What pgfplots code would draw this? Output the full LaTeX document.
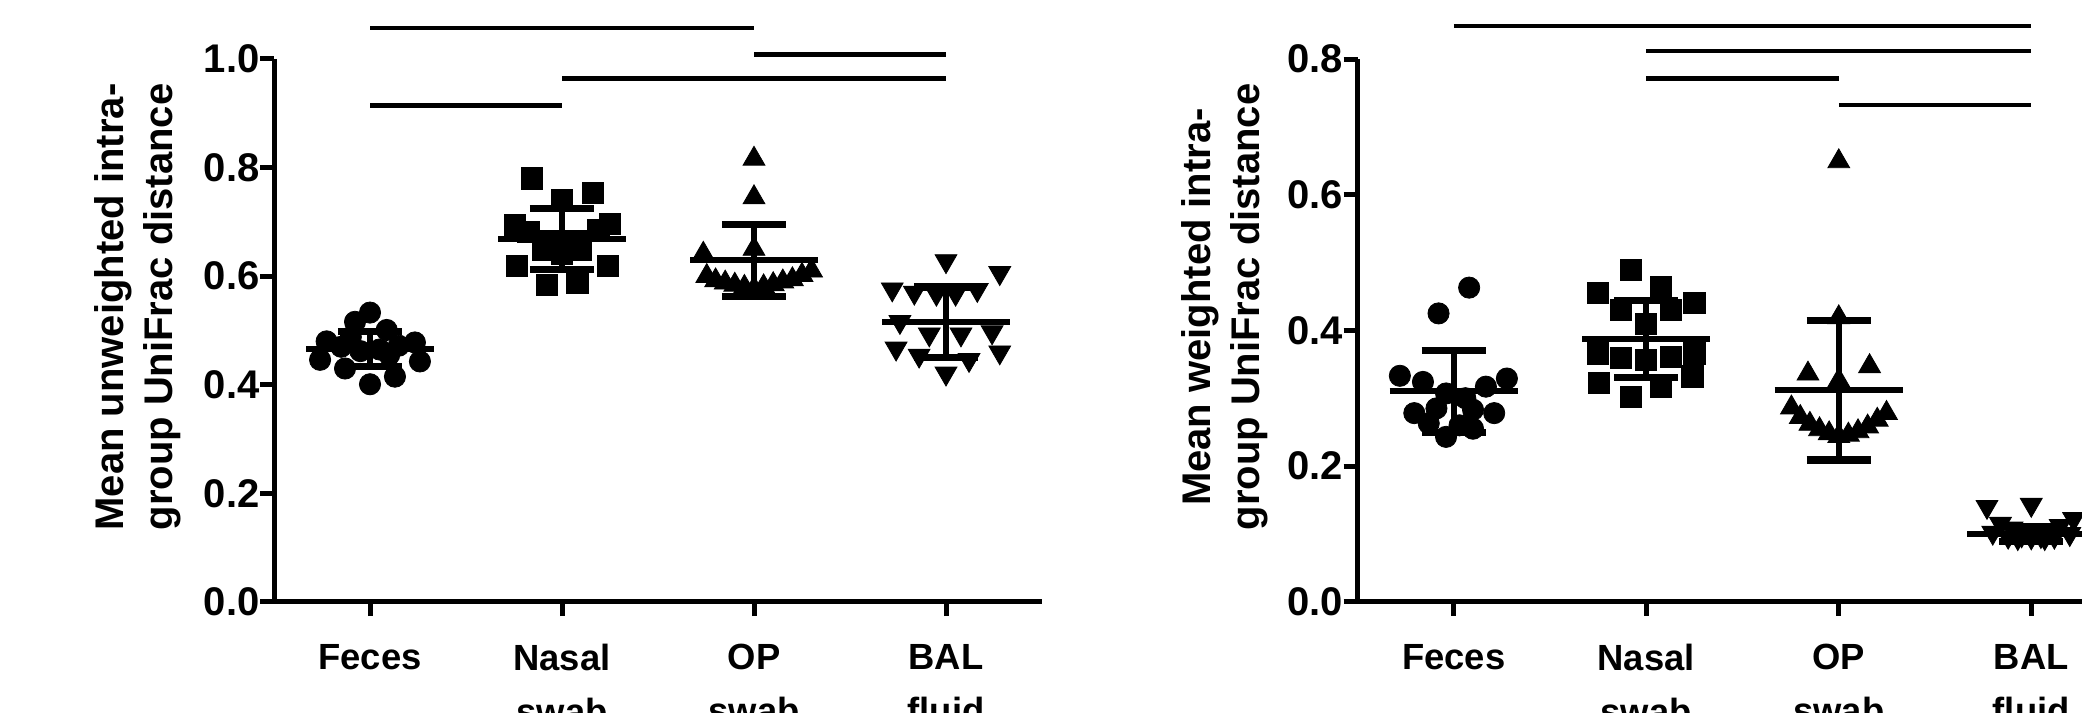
\documentclass[border=0pt]{standalone}
\usepackage{fontspec}
\setmainfont{Liberation Sans}
\usepackage{pgfplots}
\pgfplotsset{compat=1.18}
\pgfplotsset{
  myax/.style={
    scale only axis, anchor=south west,
    xmin=-0.5, xmax=3.5, ymin=0,
    axis x line=bottom, axis y line=left,
    axis line style={line width=2.5pt, -},
    tick align=outside, major tick length=7pt,
    tick style={line width=2.5pt, black},
    minor tick num=0,
    xtick={0,1,2,3},
    xticklabels={Feces, Nasal\\swab, OP\\swab, BAL\\fluid},
    xticklabel style={align=center, font=\fontsize{18.2}{27}\selectfont\bfseries, inner sep=0pt, anchor=north, yshift=-14pt},
    yticklabel style={font=\fontsize{20}{24}\selectfont\bfseries, inner sep=0pt,
      /pgf/number format/fixed, /pgf/number format/fixed zerofill, /pgf/number format/precision=1},
    /pgf/number format/assume math mode=true,
    ylabel style={anchor=south, align=center, inner sep=0pt, font=\fontsize{20}{24.5}\selectfont\bfseries},
    clip=false,
  },
  circ/.style={only marks, black, mark=*, mark size=5.3pt},
  sq/.style={only marks, black, mark=square*, mark size=5.3pt},
  tri/.style={only marks, black, mark=triangle*, mark size=6.3pt},
  itri/.style={only marks, black, mark=triangle*, mark size=6.3pt, mark options={rotate=180}},
  meanl/.style={black, line width=3pt, mark=none},
  sdv/.style={black, line width=3pt, mark=none},
  cap/.style={black, line width=3.6pt, mark=none},
  sig/.style={black, line width=2.25pt, mark=none},
}
\begin{document}
\begin{tikzpicture}
\useasboundingbox (0,0) rectangle (1041pt,356pt);
\clip (0,0) rectangle (1041pt,356pt);
% ---------------- left panel ----------------
\begin{axis}[myax, at={(137pt,55pt)}, width=384pt, height=271.5pt,
  ymax=1.0, ytick={0,0.2,0.4,0.6,0.8,1.0},
  ylabel={Mean unweighted intra-\\group UniFrac distance},
  ylabel style={at={(axis description cs:-0.1206,0.5433)}}]
\addplot[circ] coordinates {(0,0.533) (-0.078,0.516) (0.087,0.501) (-0.226,0.480) (0.234,0.478)
  (-0.26,0.446) (0.26,0.443) (-0.13,0.430) (0.13,0.415) (0,0.401)
  (-0.15,0.470) (-0.05,0.462) (0.05,0.465) (0.15,0.472) (-0.1,0.488) (0.1,0.455)};
\addplot[sq] coordinates {(0.842,0.780) (1.163,0.753) (1.0,0.740) (0.755,0.694) (1.25,0.697)
  (0.825,0.682) (1.19,0.685) (0.9,0.648) (1.0,0.642) (1.1,0.648) (0.93,0.665) (1.07,0.665)
  (0.764,0.619) (1.24,0.619) (0.92,0.584) (1.08,0.587)};
\addplot[tri] coordinates {(2,0.816) (2,0.745) (2,0.650) (1.736,0.641) (2.30,0.610) (1.754,0.600)
  (2.25,0.602) (1.80,0.592) (2.20,0.594) (1.85,0.588) (2.15,0.590) (1.90,0.584) (2.10,0.585)
  (1.95,0.580) (2.05,0.581) (2.0,0.577)};
\addplot[itri] coordinates {(3,0.628) (3.28,0.606) (2.72,0.576) (2.835,0.570) (2.95,0.568) (3.05,0.568)
  (3.163,0.575) (2.76,0.516) (2.913,0.493) (3.078,0.493) (3.24,0.497) (2.74,0.467) (2.86,0.454)
  (3.12,0.446) (3.28,0.460) (3,0.421)};
% means
\addplot[meanl] coordinates {(-0.333,0.466) (0.333,0.466)};
\addplot[meanl] coordinates {(0.667,0.668) (1.333,0.668)};
\addplot[meanl] coordinates {(1.667,0.629) (2.333,0.629)};
\addplot[meanl] coordinates {(2.667,0.515) (3.333,0.515)};
% SD bars
\addplot[sdv] coordinates {(0,0.434) (0,0.498)};
\addplot[cap] coordinates {(-0.167,0.434) (0.167,0.434)};
\addplot[cap] coordinates {(-0.167,0.498) (0.167,0.498)};
\addplot[sdv] coordinates {(1,0.612) (1,0.724)};
\addplot[cap] coordinates {(0.833,0.612) (1.167,0.612)};
\addplot[cap] coordinates {(0.833,0.724) (1.167,0.724)};
\addplot[sdv] coordinates {(2,0.563) (2,0.695)};
\addplot[cap] coordinates {(1.833,0.563) (2.167,0.563)};
\addplot[cap] coordinates {(1.833,0.695) (2.167,0.695)};
\addplot[sdv] coordinates {(3,0.450) (3,0.580)};
\addplot[cap] coordinates {(2.833,0.450) (3.167,0.450)};
\addplot[cap] coordinates {(2.833,0.580) (3.167,0.580)};
% significance
\addplot[sig] coordinates {(0,1.057) (2,1.057)};
\addplot[sig] coordinates {(2,1.008) (3,1.008)};
\addplot[sig] coordinates {(1,0.964) (3,0.964)};
\addplot[sig] coordinates {(0,0.914) (1,0.914)};
\end{axis}
% ---------------- right panel ----------------
\begin{axis}[myax, at={(678.75pt,55.15pt)}, width=385pt, height=271.35pt,
  ymax=0.8, ytick={0,0.2,0.4,0.6,0.8},
  ylabel={Mean weighted intra-\\group UniFrac distance},
  ylabel style={at={(axis description cs:-0.116,0.543)}}]
\addplot[circ] coordinates {(0.08,0.463) (-0.079,0.425) (-0.28,0.333) (-0.16,0.324) (0.276,0.329)
  (0.167,0.317) (-0.04,0.307) (0.06,0.300) (-0.205,0.278) (0.21,0.278) (-0.09,0.285) (0.1,0.283)
  (-0.13,0.263) (0.03,0.260) (-0.04,0.243) (0.1,0.255)};
\addplot[sq] coordinates {(0.92,0.489) (0.75,0.455) (1.076,0.464) (1.25,0.440) (0.87,0.430) (1.13,0.430)
  (1.0,0.410) (0.75,0.366) (0.87,0.359) (1.0,0.356) (1.13,0.361) (1.25,0.366) (0.755,0.322)
  (1.24,0.332) (0.92,0.302) (1.076,0.317)};
\addplot[tri] coordinates {(2,0.649) (2,0.419) (1.84,0.336) (2.16,0.347) (2,0.326) (1.754,0.286)
  (2.248,0.278) (1.80,0.272) (2.20,0.268) (1.85,0.262) (2.15,0.258) (1.90,0.254) (2.10,0.251)
  (1.95,0.248) (2.05,0.246) (2.0,0.244)};
\addplot[itri] coordinates {(2.77,0.140) (3.0,0.143) (3.22,0.122) (2.84,0.115) (3.15,0.112) (2.9,0.108)
  (3.1,0.105) (2.8,0.102) (3.2,0.100) (2.95,0.098) (3.05,0.097) (2.88,0.096) (3.12,0.096)
  (3.0,0.095) (2.93,0.094) (3.07,0.094)};
% means
\addplot[meanl] coordinates {(-0.333,0.310) (0.333,0.310)};
\addplot[meanl] coordinates {(0.667,0.387) (1.333,0.387)};
\addplot[meanl] coordinates {(1.667,0.312) (2.333,0.312)};
\addplot[meanl] coordinates {(2.667,0.100) (3.333,0.100)};
% SD bars
\addplot[sdv] coordinates {(0,0.250) (0,0.370)};
\addplot[cap] coordinates {(-0.167,0.250) (0.167,0.250)};
\addplot[cap] coordinates {(-0.167,0.370) (0.167,0.370)};
\addplot[sdv] coordinates {(1,0.330) (1,0.444)};
\addplot[cap] coordinates {(0.833,0.330) (1.167,0.330)};
\addplot[cap] coordinates {(0.833,0.444) (1.167,0.444)};
\addplot[sdv] coordinates {(2,0.209) (2,0.415)};
\addplot[cap] coordinates {(1.833,0.209) (2.167,0.209)};
\addplot[cap] coordinates {(1.833,0.415) (2.167,0.415)};
\addplot[sdv] coordinates {(3,0.089) (3,0.111)};
\addplot[cap] coordinates {(2.833,0.089) (3.167,0.089)};
\addplot[cap] coordinates {(2.833,0.111) (3.167,0.111)};
% significance
\addplot[sig] coordinates {(0,0.849) (3,0.849)};
\addplot[sig] coordinates {(1,0.812) (3,0.812)};
\addplot[sig] coordinates {(1,0.771) (2,0.771)};
\addplot[sig] coordinates {(2,0.732) (3,0.732)};
\end{axis}
\end{tikzpicture}
\end{document}
